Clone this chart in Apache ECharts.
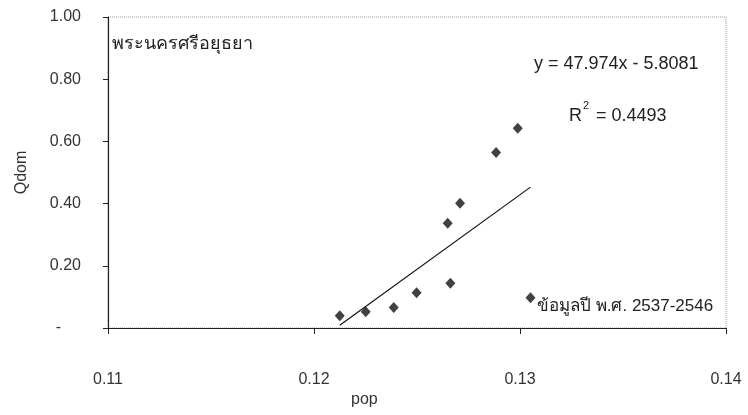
<!DOCTYPE html>
<html><head><meta charset="utf-8">
<script src="https://cdn.jsdelivr.net/npm/echarts@6/dist/echarts.min.js"></script>
<style>html,body{margin:0;padding:0;background:#fff}#c{width:748px;height:415px}</style>
</head><body><div id="c"></div>
<script>
// Data
const popValues  = [0.12125, 0.12251, 0.12387, 0.12498, 0.12662, 0.12649, 0.12709, 0.12884, 0.12989, 0.13051];
const qdomValues = [0.039, 0.052, 0.066, 0.113, 0.144, 0.337, 0.401, 0.564, 0.642, 0.097];
const yTicks = [0, 0.2, 0.4, 0.6, 0.8, 1.0];
const xTicks = [0.11, 0.12, 0.13, 0.14];
const slope = 47.974;
const intercept = -5.8081;
const titleText = 'พระนครศรีอยุธยา';
const eqText = 'y = 47.974x - 5.8081';
const r2Text = '0.4493';
const noteText = 'ข้อมูลปี พ.ศ. 2537-2546';

const FONT = '"Liberation Sans", Arial, "DejaVu Sans", "Noto Sans", sans-serif';
const points = popValues.map((x, i) => [x, qdomValues[i]]);
const xMin = Math.min(...popValues), xMax = Math.max(...popValues);
const trend = [[xMin, slope * xMin + intercept], [xMax, slope * xMax + intercept]];

const chart = echarts.init(document.getElementById('c'));
chart.setOption({
  animation: false,
  backgroundColor: '#fff',
  textStyle: { fontFamily: FONT },
  grid: { left: 108, right: 22, top: 17, bottom: 87, show: true,
          borderColor: '#999', borderWidth: 1, borderType: 'dotted', backgroundColor: 'transparent' },
  xAxis: {
    type: 'value', min: xTicks[0], max: xTicks[xTicks.length - 1], interval: 0.01,
    axisLine: { show: true, onZero: false, lineStyle: { color: '#222', width: 1.2 } },
    axisTick: { show: true, inside: false, length: 6, lineStyle: { color: '#222' } },
    axisLabel: { margin: 44, color: '#333', fontSize: 16, fontFamily: FONT,
                 formatter: v => v.toFixed(2) },
    splitLine: { show: false }
  },
  yAxis: {
    type: 'value', min: yTicks[0], max: yTicks[yTicks.length - 1], interval: 0.2,
    name: 'Qdom', nameLocation: 'middle', nameGap: 78, nameRotate: 90,
    nameTextStyle: { fontSize: 16, color: '#333', fontFamily: FONT },
    axisLine: { show: true, lineStyle: { color: '#222', width: 1.2 } },
    axisTick: { show: true, length: 5, lineStyle: { color: '#222' } },
    axisLabel: { margin: 27, color: '#333', fontSize: 16, fontFamily: FONT,
                 formatter: v => (Math.abs(v) < 1e-9 ? '{d|-}' : v.toFixed(2)),
                 rich: { d: { fontSize: 16, color: '#333', padding: [0, 20, 0, 0] } } },
    splitLine: { show: false }
  },
  series: [
    { type: 'line', data: trend, symbol: 'none', silent: true,
      lineStyle: { color: '#111', width: 1.2 }, z: 2 },
    { type: 'scatter', data: points, symbol: 'diamond', symbolSize: [10, 11],
      itemStyle: { color: '#111' }, z: 3 }
  ],
  graphic: [
    { type: 'text', left: 112, top: 35, style: { text: titleText, font: '18px ' + FONT, fill: '#222' } },
    { type: 'text', left: 534, top: 55, style: { text: eqText, font: '18px ' + FONT, fill: '#222' } },
    { type: 'text', left: 569, top: 107, style: { text: 'R', font: '18px ' + FONT, fill: '#222' } },
    { type: 'text', left: 583, top: 100, style: { text: '2', font: '11px ' + FONT, fill: '#222' } },
    { type: 'text', left: 596, top: 107, style: { text: '= ' + r2Text, font: '18px ' + FONT, fill: '#222' } },
    { type: 'text', left: 537, top: 298, style: { text: noteText, font: '17px ' + FONT, fill: '#222' } },
    { type: 'text', left: 351, top: 392, style: { text: 'pop', font: '16px ' + FONT, fill: '#333' } }
  ]
});
</script></body></html>
